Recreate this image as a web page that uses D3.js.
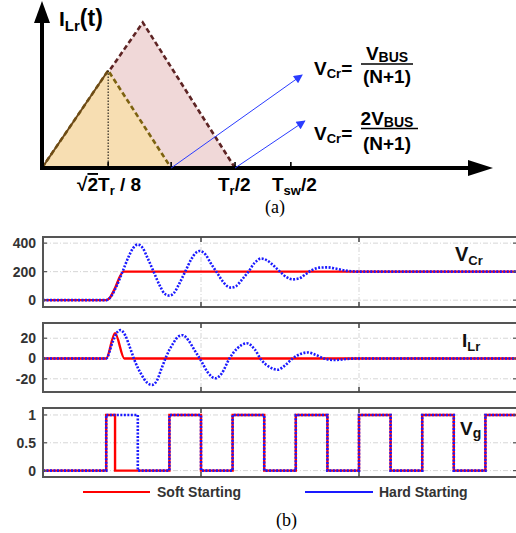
<!DOCTYPE html>
<html>
<head>
<meta charset="utf-8">
<script src="https://cdn.jsdelivr.net/npm/d3@7"></script>
<style>
  body { margin: 0; background: #fff; }
  svg { display: block; font-family: Arial, "Liberation Sans", sans-serif; }
</style>
</head>
<body>
<div id="chart"></div>
<script>
// ---- (a) diagram values, in diagram units ----
const softTriangle = [[0, 0], [1.47, 6.5], [2.87, 0]];
const hardTriangle = [[0, 0], [2.24, 9.7], [4.29, 0]];
const diagramTicks = [1.47, 2.87, 4.29, 5.53];
const arrowStarts = [[2.87, 0], [4.29, 0]];
const arrowEnds = [[5.78, 6.2], [5.84, 3.13]];

// ---- (b) waveforms: [time, value] ----
const vcrTicks = [0, 200, 400];
const ilrTicks = [-20, 0, 20];
const vgTicks = [0, 0.5, 1];
const timeGrid = [1, 2];

const vcrSoft = [[0, 0], [0.40, 0], [0.42, 12], [0.45, 70], [0.51, 200], [3, 200]];
const vcrHard = [
  [0, 0], [0.40, 0], [0.43, 25], [0.46, 85], [0.50, 190], [0.54, 300], [0.57, 365],
  [0.60, 390], [0.63, 368], [0.66, 300], [0.70, 200], [0.74, 100], [0.77, 45],
  [0.80, 32], [0.83, 52], [0.86, 110], [0.90, 200], [0.94, 290], [0.97, 335],
  [0.99, 345], [1.03, 318], [1.06, 262], [1.10, 195], [1.14, 128], [1.17, 95],
  [1.19, 88], [1.22, 97], [1.26, 145], [1.30, 200], [1.34, 262], [1.38, 292],
  [1.42, 278], [1.46, 242], [1.50, 200], [1.54, 162], [1.58, 146], [1.62, 152],
  [1.66, 180], [1.70, 210], [1.75, 228], [1.80, 230], [1.85, 222], [1.90, 210],
  [1.95, 203], [2.0, 200], [3, 200]
];

const ilrSoft = [[0, 0], [0.40, 0], [0.456, 25], [0.515, 0], [3, 0]];
const ilrHard = [
  [0, 0], [0.40, 0], [0.44, 16], [0.47, 26], [0.49, 28], [0.52, 23], [0.55, 11],
  [0.58, -2], [0.62, -15], [0.66, -24], [0.69, -26], [0.72, -22], [0.75, -10],
  [0.78, 2], [0.82, 14], [0.86, 22], [0.885, 23], [0.92, 18], [0.96, 8],
  [1.00, -2], [1.04, -13], [1.09, -19.5], [1.13, -15], [1.18, 0], [1.23, 10],
  [1.29, 15], [1.34, 9], [1.38, -1], [1.43, -8], [1.485, -11], [1.53, -7],
  [1.58, 0], [1.63, 4.5], [1.675, 6], [1.72, 4], [1.78, 0], [1.85, -1.5],
  [1.92, -0.5], [2.0, 0], [3, 0]
];

const vgSoft = [[0, 0], [0.40, 1], [0.456, 0], [0.8, 1], [1.0, 0], [1.2, 1], [1.4, 0],
  [1.6, 1], [1.8, 0], [2.0, 1], [2.2, 0], [2.4, 1], [2.6, 0], [2.8, 1], [3.0, 1]];
const vgHard = [[0, 0], [0.40, 1], [0.60, 0], [0.8, 1], [1.0, 0], [1.2, 1], [1.4, 0],
  [1.6, 1], [1.8, 0], [2.0, 1], [2.2, 0], [2.4, 1], [2.6, 0], [2.8, 1], [3.0, 1]];

const legendNames = ["Soft Starting", "Hard Starting"];

// ---- setup ----
const width = 516, height = 533;
const svg = d3.select("#chart").append("svg")
  .attr("width", width).attr("height", height)
  .attr("viewBox", [0, 0, width, height]);

const defs = svg.append("defs");
defs.append("marker")
  .attr("id", "blueHead")
  .attr("viewBox", "0 0 10 10")
  .attr("refX", 9).attr("refY", 5)
  .attr("markerWidth", 11).attr("markerHeight", 9)
  .attr("markerUnits", "userSpaceOnUse")
  .attr("orient", "auto")
  .append("path").attr("d", "M0,0L10,5L0,10z").attr("fill", "#2a3cff");

// text with sub/normal parts: parts = [text, size, dy]
function richText(g, x, y, parts, anchor) {
  const t = g.append("text").attr("x", x).attr("y", y)
    .attr("font-weight", "bold").attr("text-anchor", anchor || "start");
  parts.forEach(([s, size, dy]) => {
    t.append("tspan").attr("font-size", size).attr("dy", dy || 0).text(s);
  });
  return t;
}

// =============== (a) ===============
const xa = d3.scaleLinear().domain([0, 10]).range([42, 492]);
const ya = d3.scaleLinear().domain([0, 10]).range([168, 18]);
const ga = svg.append("g");

const triLine = d3.line().x(d => xa(d[0])).y(d => ya(d[1]));

ga.append("path").attr("d", triLine(hardTriangle) + "Z")
  .attr("fill", "#f0d8d8").attr("stroke", "none");
ga.append("path").attr("d", triLine(hardTriangle))
  .attr("fill", "none").attr("stroke", "#5e2424")
  .attr("stroke-width", 2.6).attr("stroke-dasharray", "5,3");
ga.append("path").attr("d", triLine(softTriangle) + "Z")
  .attr("fill", "#f7deb2").attr("stroke", "none");
ga.append("path").attr("d", triLine(softTriangle))
  .attr("fill", "none").attr("stroke", "#7d6210")
  .attr("stroke-width", 2.6).attr("stroke-dasharray", "5,3");
ga.append("path").attr("d", triLine(softTriangle.slice(0, 2)))
  .attr("fill", "none").attr("stroke", "#6e4a18").attr("stroke-width", 2);

// dotted drop line from soft peak
ga.append("line")
  .attr("x1", xa(softTriangle[1][0])).attr("x2", xa(softTriangle[1][0]))
  .attr("y1", ya(softTriangle[1][1])).attr("y2", ya(0))
  .attr("stroke", "#000").attr("stroke-width", 1).attr("stroke-dasharray", "1.5,1.5");

// ticks
ga.selectAll(".dtick").data(diagramTicks).join("line")
  .attr("x1", d => xa(d)).attr("x2", d => xa(d))
  .attr("y1", ya(0) - 6).attr("y2", ya(0))
  .attr("stroke", "#000").attr("stroke-width", 1.6);

// axes
ga.append("line").attr("x1", xa(0)).attr("x2", 472).attr("y1", ya(0)).attr("y2", ya(0))
  .attr("stroke", "#000").attr("stroke-width", 4);
ga.append("path").attr("d", `M468,${ya(0) - 8}L493,${ya(0)}L468,${ya(0) + 8}Z`).attr("fill", "#000");
ga.append("line").attr("x1", xa(0)).attr("x2", xa(0)).attr("y1", ya(0) + 2).attr("y2", 20)
  .attr("stroke", "#000").attr("stroke-width", 4);
ga.append("path").attr("d", `M${xa(0) - 8},23L${xa(0)},1L${xa(0) + 8},23Z`).attr("fill", "#000");

// blue arrows
arrowStarts.forEach((s, i) => {
  ga.append("line")
    .attr("x1", xa(s[0])).attr("y1", ya(s[1]))
    .attr("x2", xa(arrowEnds[i][0])).attr("y2", ya(arrowEnds[i][1]))
    .attr("stroke", "#2a3cff").attr("stroke-width", 1)
    .attr("marker-end", "url(#blueHead)");
});

// labels (a)
richText(ga, 59, 26, [["I", 21], ["Lr", 15, 5], ["(t)", 23, -5]]).attr("fill", "#000");

const tl = ga.append("text").attr("x", 77).attr("y", 191)
  .attr("font-weight", "bold").attr("font-size", 19).attr("fill", "#000");
tl.append("tspan").text("√");
tl.append("tspan").text("2").style("text-decoration", "overline");
tl.append("tspan").text("T");
tl.append("tspan").attr("font-size", 13).attr("dy", 4).text("r");
tl.append("tspan").attr("dy", -4).text(" / 8");

richText(ga, 218, 191, [["T", 19], ["r", 13, 4], ["/2", 19, -4]]);
richText(ga, 272, 191, [["T", 19], ["sw", 13, 4], ["/2", 19, -4]]);

function vcrFormula(y, numParts, barY, denY) {
  richText(ga, 314, y, [["V", 19], ["Cr", 13, 3], ["=", 19, -3]]);
  richText(ga, 387, barY - 4, numParts, "middle");
  ga.append("line").attr("x1", 361).attr("x2", numParts.length > 2 ? 418 : 413)
    .attr("y1", barY).attr("y2", barY).attr("stroke", "#000").attr("stroke-width", 1.5);
  richText(ga, 387, denY, [["(N+1)", 19]], "middle");
}
vcrFormula(75, [["V", 19], ["BUS", 14, 2]], 64, 83);
vcrFormula(140, [["2", 19], ["V", 19], ["BUS", 14, 2]], 128.5, 150);

svg.append("text").attr("x", 265).attr("y", 213)
  .attr("font-family", "'Times New Roman', 'Liberation Serif', serif")
  .attr("font-size", 18).text("(a)");

// =============== (b) ===============
const x = d3.scaleLinear().domain([0, 3]).range([43, 517]);
const softColor = "#ff0000", hardColor = "#1a1aff";

const panels = [
  { top: 237, bottom: 307, domain: [-48, 443], ticks: vcrTicks, fmt: d => d,
    soft: vcrSoft, hard: vcrHard, curve: d3.curveMonotoneX,
    label: [455, 261, [["V", 20], ["Cr", 13, 4]]] },
  { top: 323, bottom: 392, domain: [-33, 35], ticks: ilrTicks, fmt: d => d,
    soft: ilrSoft, hard: ilrHard, curve: d3.curveMonotoneX,
    label: [462, 347, [["I", 19], ["Lr", 13, 4]]] },
  { top: 408, bottom: 477, domain: [-0.115, 1.125], ticks: vgTicks, fmt: d => d,
    soft: vgSoft, hard: vgHard, curve: d3.curveStepAfter,
    label: [460, 435, [["V", 19], ["g", 14, 3]]] }
];

panels.forEach(p => {
  const y = d3.scaleLinear().domain(p.domain).range([p.bottom, p.top]);
  const g = svg.append("g");

  // grid
  g.selectAll(".hg").data(p.ticks).join("line")
    .attr("x1", x.range()[0]).attr("x2", x.range()[1])
    .attr("y1", d => y(d)).attr("y2", d => y(d))
    .attr("stroke", "#d6d6d6").attr("stroke-width", 1).attr("stroke-dasharray", "5,2,1,2");
  g.selectAll(".vg").data(timeGrid).join("line")
    .attr("x1", d => x(d)).attr("x2", d => x(d))
    .attr("y1", p.top).attr("y2", p.bottom)
    .attr("stroke", "#d6d6d6").attr("stroke-width", 1).attr("stroke-dasharray", "5,2,1,2");

  // lines
  const line = d3.line().x(d => x(d[0])).y(d => y(d[1])).curve(p.curve);
  g.append("path").attr("d", line(p.soft)).attr("fill", "none")
    .attr("stroke", softColor).attr("stroke-width", 2.4);
  g.append("path").attr("d", line(p.hard)).attr("fill", "none")
    .attr("stroke", hardColor).attr("stroke-width", 2.6).attr("stroke-dasharray", "2,1.5");

  // frame
  g.append("rect").attr("x", x.range()[0]).attr("y", p.top)
    .attr("width", x.range()[1] - x.range()[0]).attr("height", p.bottom - p.top)
    .attr("fill", "none").attr("stroke", "#555").attr("stroke-width", 2);

  // y axis labels + inward ticks
  const yAxis = d3.axisLeft(y).tickValues(p.ticks).tickFormat(p.fmt).tickSize(0).tickPadding(7);
  const yg = g.append("g").attr("transform", `translate(${x.range()[0]},0)`).call(yAxis);
  yg.select(".domain").remove();
  yg.selectAll("text").attr("font-size", 14).attr("font-weight", "bold")
    .attr("fill", "#333").attr("font-family", "Arial, 'Liberation Sans', sans-serif");

  g.selectAll(".ytl").data(p.ticks).join("line")
    .attr("x1", x.range()[0]).attr("x2", x.range()[0] + 4)
    .attr("y1", d => y(d)).attr("y2", d => y(d)).attr("stroke", "#555").attr("stroke-width", 1.2);
  g.selectAll(".ytr").data(p.ticks).join("line")
    .attr("x1", x.range()[1] - 4).attr("x2", x.range()[1])
    .attr("y1", d => y(d)).attr("y2", d => y(d)).attr("stroke", "#555").attr("stroke-width", 1.2);
  g.selectAll(".xtb").data(timeGrid).join("line")
    .attr("x1", d => x(d)).attr("x2", d => x(d))
    .attr("y1", p.bottom - 5).attr("y2", p.bottom).attr("stroke", "#444").attr("stroke-width", 1.5);
  g.selectAll(".xtt").data(timeGrid).join("line")
    .attr("x1", d => x(d)).attr("x2", d => x(d))
    .attr("y1", p.top).attr("y2", p.top + 5).attr("stroke", "#444").attr("stroke-width", 1.5);

  richText(g, p.label[0], p.label[1], p.label[2]).attr("fill", "#111");
});

// legend
const legendX = [[83, 150, 157], [305, 373, 379]];
legendNames.forEach((name, i) => {
  const [x1, x2, tx] = legendX[i];
  svg.append("line").attr("x1", x1).attr("x2", x2).attr("y1", 492).attr("y2", 492)
    .attr("stroke", i === 0 ? softColor : hardColor).attr("stroke-width", 2);
  svg.append("text").attr("x", tx).attr("y", 497).attr("font-size", 14)
    .attr("font-weight", "bold").attr("fill", "#333").text(name);
});

svg.append("text").attr("x", 276).attr("y", 526)
  .attr("font-family", "'Times New Roman', 'Liberation Serif', serif")
  .attr("font-size", 18).text("(b)");
</script>
</body>
</html>
